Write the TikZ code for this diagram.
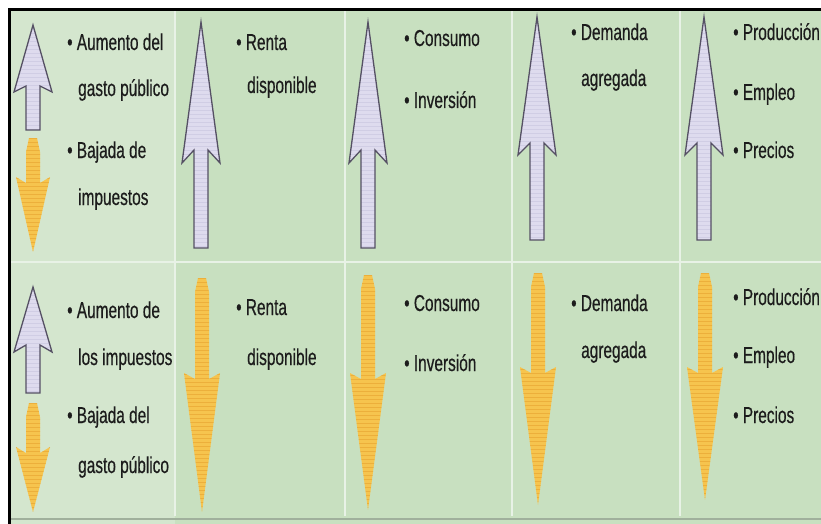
\documentclass[tikz,border=0pt]{standalone}
\usepackage{fontspec}
\newfontfamily\cf{Liberation Sans}[FakeStretch=0.67, FakeBold=0.4]
\definecolor{bg}{RGB}{200,224,192}
\definecolor{bgl}{RGB}{212,230,206}
\definecolor{sepc}{RGB}{232,242,230}
\definecolor{lav}{RGB}{222,219,238}
\definecolor{lavline}{RGB}{85,80,100}
\definecolor{lavstripe}{RGB}{200,196,222}
\definecolor{gold}{RGB}{246,196,78}
\definecolor{goldline}{RGB}{226,150,36}
\definecolor{txt}{RGB}{28,28,28}
\definecolor{band}{RGB}{160,176,156}
\tikzset{
  lbl/.style={anchor=base west, inner sep=0pt, font=\cf\fontsize{23}{23}\selectfont, text=txt},
  uparr/.style={draw=lavline, line width=1.3pt, line join=miter},
}
\newcommand\UpArr[5]{%
  \begin{scope}
    \path[clip] (#1,#2) -- (#1+19,#3) -- (#1+7,#4) -- (#1+7,#5) -- (#1-7,#5) -- (#1-7,#4) -- (#1-19,#3) -- cycle;
    \fill[lav] (#1-30,#2) rectangle (#1+30,#5);
    \foreach \yy in {0,4,...,240} \draw[lavstripe, line width=.6pt, opacity=.6] (#1-30,#2+\yy) -- (#1+30,#2+\yy);
  \end{scope}
  \draw[uparr] (#1,#2) -- (#1+19,#3) -- (#1+7,#4) -- (#1+7,#5) -- (#1-7,#5) -- (#1-7,#4) -- (#1-19,#3) -- cycle;}
\newcommand\DnArr[5]{%
  \begin{scope}
    \path[clip] (#1-4,#2) -- (#1+4,#2) -- (#1+7,#2+14) -- (#1+7,#3+6) -- (#1+#5,#3) -- (#1,#4) -- (#1-#5,#3) -- (#1-7,#3+6) -- (#1-7,#2+14) -- cycle;
    \fill[gold] (#1-30,#2) rectangle (#1+30,#4);
    \foreach \yy in {0,4,...,240} \draw[goldline, line width=.8pt, opacity=.45] (#1-30,#2+\yy) -- (#1+30,#2+\yy);
  \end{scope}}
\begin{document}
\begin{tikzpicture}[x=1pt, y=-1pt]
\useasboundingbox (0,0) rectangle (821,524);
% background
\fill[white] (0,0) rectangle (821,524);
\fill[bg] (10,10) rectangle (821,524);
\fill[bgl] (11,11) rectangle (175,524);
\foreach \xx in {175,345,512,680} \draw[sepc, line width=2pt] (\xx,11) -- (\xx,516);
\draw[sepc, line width=2.5pt] (11,262) -- (821,262);
\draw[band, line width=2pt] (11,519) -- (821,519);
\draw[black, line width=2.5pt] (9.5,524) -- (9.5,9.5) -- (821,9.5);
% arrows
\UpArr{33}{25}{92}{86}{130}
\DnArr{33}{138}{177}{252}{17}
\UpArr{201}{22}{163}{150}{248}
\UpArr{368}{22}{163}{150}{248}
\UpArr{537}{17}{155}{143}{240}
\UpArr{704}{17}{155}{143}{240}
\UpArr{33}{287}{352}{345}{393}
\DnArr{33}{403}{447}{512}{17}
\DnArr{202}{278}{373}{512}{18}
\DnArr{368}{275}{373}{510}{18}
\DnArr{538}{273}{367}{505}{18}
\DnArr{705}{273}{367}{500}{18}
% texts top row
\node[lbl] (a1) at (67,50) {• Aumento del};
\node[lbl] (a2) at (78,96) {gasto público};
\node[lbl] (a3) at (67,158) {• Bajada de};
\node[lbl] (a4) at (78,205) {impuestos};
\node[lbl] (b1) at (236,50) {• Renta};
\node[lbl] (b2) at (247,93) {disponible};
\node[lbl] (c1) at (404,46) {• Consumo};
\node[lbl] (c2) at (404,108) {• Inversión};
\node[lbl] (d1) at (571,40) {• Demanda};
\node[lbl] (d2) at (581,86) {agregada};
\node[lbl] (e1) at (733,40) {• Producción};
\node[lbl] (e2) at (733,100) {• Empleo};
\node[lbl] (e3) at (733,158) {• Precios};
% texts bottom row
\node[lbl] (f1) at (67,318) {• Aumento de};
\node[lbl] (f2) at (78,365) {los impuestos};
\node[lbl] (f3) at (67,423) {• Bajada del};
\node[lbl] (f4) at (78,473) {gasto público};
\node[lbl] (g1) at (236,315) {• Renta};
\node[lbl] (g2) at (247,365) {disponible};
\node[lbl] (h1) at (404,311) {• Consumo};
\node[lbl] (h2) at (404,371) {• Inversión};
\node[lbl] (i1) at (571,311) {• Demanda};
\node[lbl] (i2) at (581,358) {agregada};
\node[lbl] (j1) at (733,305) {• Producción};
\node[lbl] (j2) at (733,363) {• Empleo};
\node[lbl] (j3) at (733,423) {• Precios};
\end{tikzpicture}
\end{document}
